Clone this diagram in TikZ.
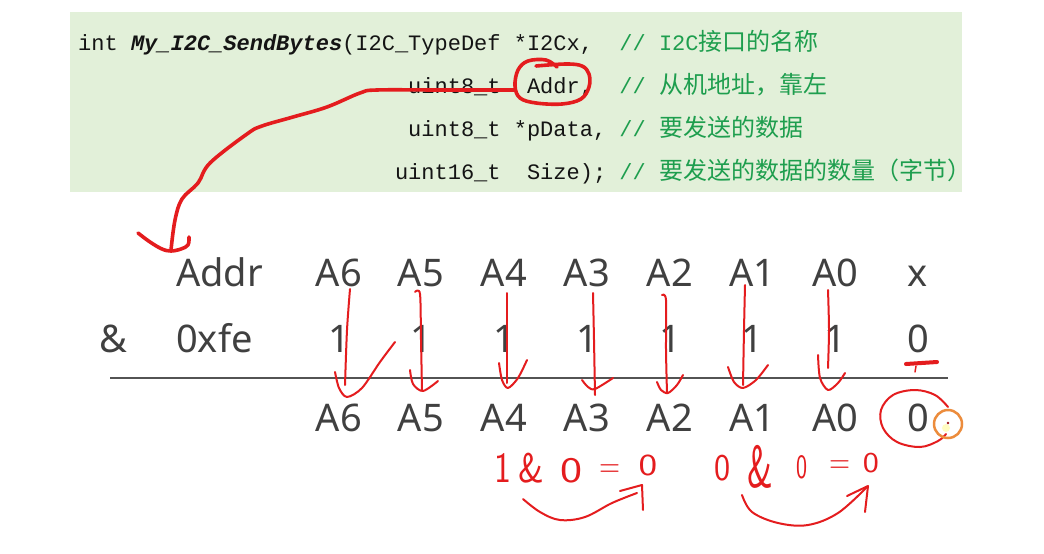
\documentclass[tikz,border=0pt]{standalone}
\usepackage{fontspec}
\usepackage{graphicx}
\setmonofont{Liberation Mono}
\setsansfont{Noto Sans}
\newfontfamily\cjk{Noto Sans CJK SC}
\definecolor{boxgreen}{RGB}{226,240,217}
\definecolor{cmtgreen}{RGB}{30,158,78}
\definecolor{codeblack}{RGB}{20,20,20}
\definecolor{graytxt}{RGB}{64,64,64}
\definecolor{inkred}{RGB}{228,28,30}
\definecolor{inkorange}{RGB}{236,140,60}
\begin{document}
\begin{tikzpicture}[x=1pt,y=-1pt,
  code/.style={anchor=base west,inner sep=0pt,font=\ttfamily\fontsize{22}{22}\selectfont,text=codeblack},
  cmt/.style={anchor=base west,inner sep=0pt,font=\ttfamily\fontsize{22}{22}\selectfont,text=cmtgreen},
  big/.style={anchor=base,inner sep=0pt,font=\sffamily\fontsize{38}{38}\selectfont,text=graytxt},
  bigw/.style={anchor=base west,inner sep=0pt,font=\sffamily\fontsize{38}{38}\selectfont,text=graytxt},
  hand/.style={anchor=base,inner sep=0pt,font=\fontfamily{lmss}\selectfont\fontsize{36}{36}\selectfont,text=inkred},
  ink/.style={draw=inkred,line width=2pt,line cap=round,line join=round},
  thickink/.style={draw=inkred,line width=3.6pt,line cap=round,line join=round}]
\useasboundingbox (0,0) rectangle (1044,554);
\fill[white] (0,0) rectangle (1044,554);
% code box
\fill[boxgreen] (70,12) rectangle (962,192);
\node[code] (l1) at (78,50) {int \textbf{\textit{My\_I2C\_SendBytes}}(I2C\_TypeDef *I2Cx,};
\node[code] (l2a) at (78+25*13.2,93) {uint8\_t};
\node[code] (l2b) at (78+34*13.2,93) {Addr,};
\node[code] (l3) at (78+25*13.2,136) {uint8\_t *pData,};
\node[code] (l4a) at (78+24*13.2,179) {uint16\_t};
\node[code] (l4b) at (78+34*13.2,179) {Size);};
\node[cmt] (c1) at (78+41*13.2,50) {// I2C{\cjk\fontsize{24}{24}\selectfont 接口的名称}};
\node[cmt] (c2) at (78+41*13.2,93) {// {\cjk\fontsize{24}{24}\selectfont 从机地址，靠左}};
\node[cmt] (c3) at (78+41*13.2,136) {// {\cjk\fontsize{24}{24}\selectfont 要发送的数据}};
\node[cmt] (c4) at (78+41*13.2,179) {// {\cjk\fontsize{24}{24}\selectfont 要发送的数据的数量（字节）}};
% table rows
\node[bigw] (addr) at (176,286) {Addr};
\node[big] (r1a6) at (339,286) {A6};
\node[big] (r1a5) at (421,286) {A5};
\node[big] (r1a4) at (504,286) {A4};
\node[big] (r1a3) at (587,286) {A3};
\node[big] (r1a2) at (670,286) {A2};
\node[big] (r1a1) at (752,286) {A1};
\node[big] (r1a0) at (835,286) {A0};
\node[big] (r1x) at (918,286) {x};
\node[bigw] (amp) at (99,352) {\&};
\node[bigw] (mask) at (176,352) {0xfe};
\node[big] (r2b6) at (339,352) {1};
\node[big] (r2b5) at (421,352) {1};
\node[big] (r2b4) at (504,352) {1};
\node[big] (r2b3) at (587,352) {1};
\node[big] (r2b2) at (670,352) {1};
\node[big] (r2b1) at (752,352) {1};
\node[big] (r2b0) at (835,352) {1};
\node[big] (r2bx) at (918,352) {0};
\coordinate (ruleL) at (110,378);
\coordinate (ruleR) at (948,378);
\draw[graytxt!90,line width=2pt] (ruleL) -- (ruleR);
\node[big] (r3a6) at (339,431) {A6};
\node[big] (r3a5) at (421,431) {A5};
\node[big] (r3a4) at (504,431) {A4};
\node[big] (r3a3) at (587,431) {A3};
\node[big] (r3a2) at (670,431) {A2};
\node[big] (r3a1) at (752,431) {A1};
\node[big] (r3a0) at (835,431) {A0};
\node[big] (r3x) at (918,431) {0};
% red ink: big curve from Addr to table
\draw[thickink] plot[smooth,tension=0.6] coordinates {(515,90) (440,90) (377,90) (360,93) (327,107) (293,117) (262,126) (247,134) (210,163) (198,183) (182,199) (175,220) (171,250)};
\draw[thickink] plot[smooth,tension=0.6] coordinates {(138,233) (150,242) (162,249) (171,251) (181,249) (188,245) (189,237)};
% circle round Addr
\draw[thickink] plot[smooth,tension=0.6] coordinates {(557,67) (546,60) (528,61) (518,70) (515,86) (520,98) (536,103) (562,104) (581,99) (589,87) (589,74) (582,66) (566,64) (536,66)};
% vertical arrows
\draw[ink] plot[smooth] coordinates {(350,289) (347,330) (345,385)};
\draw[ink] plot[smooth] coordinates {(335,372) (339,388) (347,397) (362,388) (380,362) (395,342)};
\draw[ink] plot[smooth] coordinates {(415,292) (420,294) (421,340) (422,390)};
\draw[ink] plot[smooth] coordinates {(410,370) (413,384) (423,391) (438,381)};
\draw[ink] plot[smooth] coordinates {(507,293) (507,340) (507,383)};
\draw[ink] plot[smooth] coordinates {(499,363) (502,380) (508,388) (518,378) (527,360)};
\draw[ink] plot[smooth] coordinates {(593,293) (594,340) (595,395)};
\draw[ink] plot[smooth] coordinates {(582,380) (588,387) (595,389) (613,378)};
\draw[ink] plot[smooth] coordinates {(662,295) (666,300) (666,350) (667,393)};
\draw[ink] plot[smooth] coordinates {(657,382) (661,390) (668,393) (677,385) (683,375)};
\draw[ink] plot[smooth] coordinates {(745,285) (744,330) (743,385)};
\draw[ink] plot[smooth] coordinates {(728,367) (734,382) (743,388) (756,380) (768,365)};
\draw[ink] plot[smooth] coordinates {(828,290) (829,330) (828,368)};
\draw[ink] plot[smooth] coordinates {(818,355) (820,378) (828,390) (838,383) (845,373)};
% mark under the 0
\draw[draw=inkred,line width=4pt,line cap=round] (906,364) -- (937,362);
\draw[draw=inkred,line width=1.5pt,line cap=round] (916,366) -- (915,372);
% circle round the result 0
\draw[ink] plot[smooth,tension=0.6] coordinates {(948,407) (935,395) (915,390) (893,395) (881,410) (883,428) (897,442) (920,447) (938,441) (946,434)};
\fill[yellow!40,opacity=0.6] (946,428) circle (4);
\draw[inkorange,line width=2.5pt] (948,424) circle (14);
\fill[inkred!70!black] (948,423) circle (1.3);
% handwritten working
\node[hand] (h1) at (503,482) {\scalebox{1}[1.2]{1}};
\node[hand] (h2) at (531,482) {\scalebox{1}[1.15]{\&}};
\node[hand] (h3) at (571,482) {\scalebox{1.3}[1]{0}};
\node[hand,anchor=center] (h4) at (610,471) {\scalebox{0.8}[1]{=}};
\node[hand] (h5) at (648,475) {\scalebox{1.1}[0.85]{0}};
\node[hand] (k1) at (723,480) {\scalebox{0.95}[1.05]{0}};
\node[hand] (k2) at (760,487) {\scalebox{1}[1.65]{\&}};
\node[hand] (k3) at (802,478) {\scalebox{0.65}[0.95]{0}};
\node[hand,anchor=center] (k4) at (840,467) {\scalebox{0.8}[1]{=}};
\node[hand] (k5) at (871,472) {\scalebox{0.95}[0.8]{0}};
\draw[ink] plot[smooth,tension=0.6] coordinates {(523,499) (540,512) (560,520) (585,517) (612,503) (637,493)};
\draw[ink] (620,491) -- (642,485) -- (643,510);
\draw[ink] plot[smooth,tension=0.6] coordinates {(742,495) (752,512) (778,523) (808,525) (838,513) (867,487)};
\draw[ink] (847,496) -- (868,486) -- (865,512);
\end{tikzpicture}
\end{document}
